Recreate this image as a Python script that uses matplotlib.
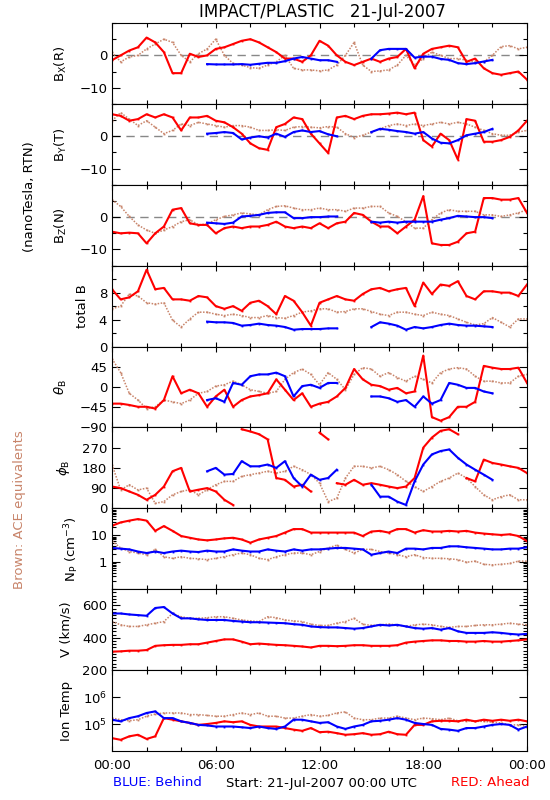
import numpy as np
import matplotlib
matplotlib.use('Agg')
import matplotlib.pyplot as plt
from matplotlib.ticker import MultipleLocator, FixedLocator, NullLocator, LogLocator

RED = '#ff0000'
BLUE = '#0000ff'
BROWN = '#c8846a'

# half-hour samples over the day (hours since 00:00 UTC)
hours = np.arange(0, 24.01, 0.5)

# ---- magnetic field (nT, RTN) ----
bx_red = [-1.5, 0, 1.5, 2.5, 5.5, 4, 1, -5.5, -5.5, 0.5, -0.5, 0, 2, 2.5, 3.5, 4.5, 5, 4, 2.5, 1,
          -1, -1, -2, 0, 4.5, 3, 0, -2, -3, -2, -1, -2, -1, -0.5, 2, -4, 0.5, 2, 2.5, 3,
          2.5, -2, -1, -4, -5.5, -6, -5.5, -5, -7.5]
bx_blue = [None] * 11 + [-2.7, -2.8, -2.8, -2.8, -2.7, -2.9, -2.6, -2.3, -2.3, -1.8, -1.0, -0.5, -1.0, -1.5, -1.5, -2.0] \
    + [None] * 3 + [-1.0, 1.6, 2.0, 2.0, 2.0, -0.7, -0.4, -0.4, -1.1, -1.4, -2.4, -2.7, -2.4, -1.9, -1.4] + [None] * 4
bx_brown = [1, -2, -0.5, 0, 2, 3.5, 5, 4, 0, -2, 0.5, 2, 5, 0, -2.5, -3, -3.8, -4, -3, -2,
            0, -4, -4.5, -4.5, -4.8, -4.5, -3, 0, 4, -3, -5, -4.8, -4.5, -3, 0, -3, -1, 1, 0, -1,
            -1, -1.5, -2, -2, 0, 2.7, 3, 2, 2.5]

by_red = [6.8, 6.3, 4.8, 5.3, 6.8, 5.8, 6.8, 5.8, 1.8, 5.8, 5.8, 6.3, 4.8, 4.3, 2.8, 0.8, -2.2, -3.7, -4.2, 2.8,
          3.8, 5.8, 5.3, 0.8, -2.2, -5.2, 5.8, 6.3, 5.3, 6.3, 6.8, 6.8, 7.0, 7.3, 6.8, 7.3, -1.2, -3.2, 0.8, -1.2,
          -7.2, 5.3, 4.8, -1.7, -1.7, -1.2, -0.2, 1.8, 4.8]
by_blue = [None] * 11 + [0.8, 1.0, 1.3, 1.0, -1.0, -0.4, 0, -0.4, 0.8, -0.2, 1.3, 1.8, 1.3, 1.6, 0.6, 0] \
    + [None] * 3 + [1.3, 2.3, 2.0, 1.6, 1.3, 0.8, 1.3, -0.7, -2.0, -2.2, -1.2, 0.3, 0.8, 1.3, 2.3] + [None] * 4
by_brown = [4.8, 7.3, 5.3, 3.3, 4.8, 2.8, 0.8, 1.8, 3.8, 3.3, 4.3, 3.8, 3.3, 2.8, 3.3, 3.3, 2.8, 1.8, 1.8, 2.0,
            1.8, 2.8, 3.0, 2.8, 2.6, 3.0, 2.8, 0.8, -0.4, 0.3, 1.3, 2.3, 3.3, 3.8, 3.3, 3.8, 3.3, 3.8, 4.3, 3.8,
            4.3, 3.8, 2.8, 1.8, 0.8, 0.3, 0.3, 1.3, 1.8]

bz_red = [-4.5, -5, -4.8, -5, -8.1, -5, -2.9, 2.3, 2.8, -1.9, -2.4, -2.4, -5, -3.4, -2.9, -3.4, -2.9, -2.9, -2.4, -1.4,
          -2.9, -3.4, -2.9, -3.4, -1.9, -3.4, -1.9, -1.4, 1.3, 0.7, -1.4, -2.9, -2.9, -5, -2.9, -0.8, 6.5, -8.1, -8.6, -8.6,
          -7.6, -5, -4.5, 5.9, 5.9, 5.4, 5.4, 5.9, 1.3]
bz_blue = [None] * 11 + [-1.7, -1.9, -2.1, -1.7, 0.2, 0.4, 0.7, 1.3, 1.5, 1.5, -0.3, -0.3, 0, 0, 0.2, 0.2] \
    + [None] * 3 + [-1.4, -1.7, -1.4, -1.7, -1.4, -1.4, -1.4, -1.4, -0.8, -0.3, 0.4, 0.2, 0, 0, -0.3] + [None] * 4
bz_brown = [5.4, 3.3, 0.2, -2.4, -4, -5, -4, -2.9, -1.4, -0.8, -2.4, -2.1, -0.8, 0.2, 0.7, 1.3, 1.0, 0.7, 2.3, 3.3,
            3.5, 2.8, 2.3, 2.3, 2.8, 2.3, 2.3, 1.8, 2.8, 2.8, 3.3, 3.3, 1.3, 0.2, -1.4, -3.4, -3.4, -0.8, 1.3, 2.3,
            1.8, 1.8, 1.8, 0.7, 0.7, 0.2, 0.7, 1.3, 2.3]

bt_red = [8.5, 7, 7.3, 8.2, 11.4, 8.5, 8.7, 7, 7, 6.8, 7.5, 7.3, 6, 5.6, 6, 5.3, 6.5, 6.8, 6, 4.8,
          7.5, 6.8, 5.1, 3.1, 6.5, 7, 7.5, 7, 6.8, 7.8, 8.5, 8.7, 8.2, 8.5, 8.7, 6, 9.5, 7.8, 9.2, 9,
          9.7, 7.5, 7, 8.2, 8.2, 8, 8, 7.5, 9.2]
bt_blue = [None] * 11 + [3.7, 3.6, 3.6, 3.5, 3.1, 3.2, 3.4, 3.2, 3.1, 2.9, 2.5, 2.6, 2.6, 2.6, 2.7, 2.7] \
    + [None] * 3 + [2.9, 3.6, 3.4, 3.1, 2.5, 2.9, 2.7, 2.9, 3.2, 3.4, 3.2, 3.1, 3.1, 3.0, 2.9] + [None] * 4
bt_brown = [5.6, 6, 7.8, 7.5, 6.5, 6.3, 6.5, 3.9, 2.9, 4.1, 5.1, 5.1, 4.8, 4.6, 4.8, 4.6, 4.3, 4.3, 4.6, 4.3,
            4.2, 4.6, 5.1, 5.3, 5.6, 5.6, 5.1, 5.2, 5.6, 5.6, 5.2, 4.8, 4.6, 5.1, 5.1, 4.8, 4.6, 5.1, 4.8, 4.6,
            4.1, 3.6, 3.2, 3.4, 4.3, 3.6, 2.9, 4.1, 4.1]

# ---- field angles (deg) ----
th_red = [-37, -37, -40, -44, -44, -48, -29, 24, -14, -6, -14, -44, -21, -6, -44, -29, -21, -18, -14, 17,
          -6, -29, -14, -44, -37, -33, -21, -2, 40, 17, 5, 2, -6, -2, -14, -10, 70, -67, -75, -67,
          -44, -44, -33, 47, 43, 40, 40, 43, 9]
th_blue = [None] * 11 + [-29, -25, -33, 9, 5, 24, 28, 28, 32, 24, -21, 2, 5, -2, 9, 9] \
    + [None] * 3 + [-21, -21, -25, -33, -29, -44, -21, -37, -29, 9, 5, -2, -2, -10, -14] + [None] * 4
th_brown = [63, 32, -14, -29, -48, -44, -29, -33, -37, -29, -14, -10, 2, 5, 13, 5, -6, -10, -14, -10,
            17, 32, 40, 28, 5, 32, 17, -6, 28, 43, 40, 24, 32, 21, 13, 24, 17, 9, 32, 40,
            43, 40, 24, 13, 13, 9, 9, 24, 28]

ph_red = [97, 90, 75, 60, 38, 60, 97, 165, 180, 75, 83, 90, 75, 38, 15, 352, 342, 330, 307, 135,
          127, 97, 105, 75, 337, 307, 112, 105, 127, 105, 112, 105, 97, 90, 97, 135, 270, 315, 345, 352,
          330, 135, 120, 217, 202, 195, 187, 180, 157]
ph_blue = [None] * 11 + [165, 180, 150, 153, 210, 187, 187, 195, 180, 210, 135, 97, 150, 127, 135, 172] \
    + [None] * 3 + [105, 52, 52, 30, 15, 120, 195, 240, 255, 262, 225, 195, 172, 150, 127] + [None] * 4
ph_brown = [195, 82, 105, 82, 90, 22, 30, 60, 75, 83, 60, 83, 105, 120, 120, 142, 150, 157, 165, 157,
            165, 187, 172, 150, 112, 30, 45, 135, 187, 187, 180, 187, 172, 150, 120, 97, 75, 97, 120, 135,
            157, 135, 97, 60, 38, 52, 60, 38, 38]

# ---- plasma ----
np_red = [22.6, 30, 35, 40, 35, 14.6, 22, 14.6, 9.4, 8.1, 7.0, 6.5, 7.0, 7.7, 8.1, 7.0, 5.3, 7.0, 8.1, 9.4,
          12.6, 17, 17, 12.6, 12.6, 12.6, 12.6, 12.6, 12.6, 9.4, 13.8, 14.6, 12.6, 17, 17, 12.6, 15.5, 13.8, 13.8, 14.6,
          13.8, 14.6, 12.6, 11.6, 10.9, 10.3, 10.9, 9.4, 6.1]
np_blue = [3.4, 3.2, 3.0, 2.5, 2.2, 2.5, 2.2, 2.5, 2.7, 2.5, 2.4, 2.7, 2.5, 2.5, 3.0, 2.7, 2.5, 2.5, 3.0, 2.7,
           2.5, 3.0, 2.7, 3.0, 3.0, 3.2, 3.4, 3.4, 3.2, 3.0, 1.9, 2.2, 2.5, 2.2, 3.2, 3.2, 3.0, 3.4, 3.4, 3.9,
           3.9, 3.6, 3.4, 3.2, 3.0, 3.0, 3.2, 3.2, 3.6]
np_brown = [6.1, 3.4, 2.5, 2.2, 1.9, 3.0, 1.6, 1.4, 1.6, 1.4, 1.35, 1.25, 1.4, 1.6, 1.9, 2.2, 1.9, 1.4, 1.25, 1.6,
            1.9, 2.2, 2.2, 1.9, 2.5, 3.4, 4.3, 3.0, 2.2, 3.0, 3.0, 2.5, 2.2, 1.9, 1.6, 1.9, 1.5, 1.4, 1.4, 1.35,
            1.25, 1.0, 1.1, 0.84, 0.8, 0.84, 0.9, 1.1, 1.1]

v_red = [314, 316, 320, 320, 324, 350, 354, 356, 356, 360, 360, 370, 380, 390, 390, 376, 360, 364, 360, 356,
         354, 350, 346, 340, 350, 350, 348, 350, 354, 354, 350, 350, 350, 354, 370, 376, 380, 384, 384, 380,
         380, 376, 376, 380, 376, 376, 380, 384, 390]
v_blue = [550, 550, 544, 540, 536, 584, 590, 550, 520, 520, 514, 510, 510, 510, 504, 500, 496, 496, 494, 492,
          490, 484, 480, 470, 466, 464, 464, 460, 456, 460, 470, 480, 476, 480, 470, 460, 456, 460, 450, 460,
          440, 430, 430, 430, 434, 430, 424, 420, 424]
v_brown = [500, 480, 470, 470, 480, 490, 500, 550, 530, 520, 520, 524, 530, 530, 520, 510, 504, 500, 530, 524,
           510, 504, 500, 484, 476, 476, 490, 500, 520, 484, 476, 480, 484, 480, 470, 480, 484, 480, 470, 464,
           470, 470, 476, 480, 480, 484, 490, 484, 480]

# ion temperature in units of 1e5 K
t_red = [0.30, 0.26, 0.35, 0.40, 0.28, 0.35, 1.66, 1.45, 1.26, 1.10, 0.93, 1.00, 1.10, 1.26, 1.17, 1.26, 0.93, 0.81, 0.81, 0.81,
         0.71, 0.62, 0.56, 0.71, 0.50, 0.52, 0.46, 0.40, 0.42, 0.46, 0.40, 0.42, 0.52, 0.42, 0.40, 0.93, 0.93, 1.26, 1.32, 1.32,
         1.26, 1.45, 1.26, 1.45, 1.32, 1.45, 1.32, 1.45, 1.26]
t_blue = [1.45, 1.26, 1.66, 1.95, 2.57, 2.95, 1.66, 1.66, 1.26, 1.10, 0.93, 0.89, 0.81, 0.81, 0.81, 0.76, 0.71, 0.81, 0.71, 0.66,
          0.81, 1.45, 1.45, 1.26, 1.10, 1.17, 0.81, 0.66, 0.81, 0.93, 1.26, 1.32, 1.45, 1.66, 1.45, 1.10, 1.00, 0.93, 0.66, 0.62,
          0.56, 0.71, 0.71, 0.81, 0.93, 1.00, 0.93, 0.62, 0.81]
t_brown = [1.66, 1.45, 1.32, 1.45, 1.95, 2.34, 2.57, 2.57, 2.57, 2.24, 2.24, 2.09, 1.95, 1.95, 2.24, 2.57, 2.24, 2.57, 1.95, 1.95,
           1.66, 1.66, 1.95, 2.24, 1.95, 2.09, 2.57, 2.82, 1.66, 1.45, 1.45, 1.66, 1.66, 1.95, 1.66, 1.45, 1.66, 1.58, 1.45, 1.66,
           1.32, 1.32, 1.26, 1.26, 1.17, 1.10, 0.93, 0.93, 0.81]


def arr(v, scale=1.0, wrap=False):
    a = np.array(v, dtype=float) * scale
    if wrap:
        # don't join points across the 0/360 wrap
        out_t, out_v = [hours[0]], [a[0]]
        for i in range(1, len(a)):
            if abs(a[i] - a[i - 1]) > 180:
                out_t.append(np.nan)
                out_v.append(np.nan)
            out_t.append(hours[i])
            out_v.append(a[i])
        return np.array(out_t), np.array(out_v)
    return hours, a


panels = [
    ('B$_\\mathrm{X}$(R)', (bx_brown, bx_red, bx_blue), (-15, 10), [-10, 0], ['\u221210', '0'], 5, 'lin'),
    ('B$_\\mathrm{Y}$(T)', (by_brown, by_red, by_blue), (-15, 10), [-10, 0], ['\u221210', '0'], 5, 'lin'),
    ('B$_\\mathrm{Z}$(N)', (bz_brown, bz_red, bz_blue), (-15, 10), [-10, 0], ['\u221210', '0'], 5, 'lin'),
    ('total B', (bt_brown, bt_red, bt_blue), (0, 12), [0, 4, 8], ['0', '4', '8'], 2, 'lin'),
    ('$\\theta_\\mathrm{B}$', (th_brown, th_red, th_blue), (-90, 90), [-90, -45, 0, 45],
     ['\u221290', '\u221245', '0', '45'], None, 'lin'),
    ('$\\phi_\\mathrm{B}$', (ph_brown, ph_red, ph_blue), (0, 360), [0, 90, 180, 270],
     ['0', '90', '180', '270'], None, 'wrap'),
    ('N$_\\mathrm{P}$ (cm$^{-3}$)', (np_brown, np_red, np_blue), (0.1, 100), [1, 10], ['1', '10'], None, 'log'),
    ('V (km/s)', (v_brown, v_red, v_blue), (200, 700), [200, 400, 600], ['200', '400', '600'], 20, 'lin'),
    ('Ion Temp', (t_brown, t_red, t_blue), (1e4, 1e7), [1e5, 1e6], ['10$^5$', '10$^6$'], None, 'temp'),
]

fig, axes = plt.subplots(len(panels), 1, figsize=(5.5, 8), dpi=100, sharex=True)
fig.subplots_adjust(left=112 / 550, right=527 / 550, top=1 - 23 / 800, bottom=1 - 751 / 800, hspace=0)

for ax, (label, series, ylim, ticks, labels, minor, kind) in zip(axes, panels):
    scale = 1e5 if kind == 'temp' else 1.0
    wrap = kind == 'wrap'
    for vals, col, lw, ls in zip(series, (BROWN, RED, BLUE), (1.1, 1.5, 1.5), ((0, (1, 1)), '-', '-')):
        t, y = arr(vals, scale, wrap)
        ax.plot(t, y, color=col, lw=lw, ls=ls, marker='s', ms=1.3, mew=0)
    if kind in ('log', 'temp'):
        ax.set_yscale('log')
    ax.set_ylim(*ylim)
    ax.yaxis.set_major_locator(FixedLocator(ticks))
    ax.set_yticklabels(labels)
    if kind == 'log':
        ax.yaxis.set_minor_locator(LogLocator(base=10, subs=np.arange(2, 10)))
    elif kind == 'temp':
        ax.yaxis.set_minor_locator(NullLocator())
    elif minor:
        ax.yaxis.set_minor_locator(MultipleLocator(minor))
    else:
        ax.yaxis.set_minor_locator(NullLocator())
    if ylim == (-15, 10):
        ax.axhline(0, color='#888888', lw=1.0, dashes=(6, 4), zorder=0)
    ax.set_ylabel(label, fontsize=9.5, labelpad=7)
    ax.tick_params(axis='both', which='both', direction='in', top=True, right=True, labelsize=9.5)
    ax.tick_params(axis='y', which='major', length=5.5, width=0.8)
    ax.tick_params(axis='y', which='minor', length=3, width=0.8)
    ax.tick_params(axis='x', which='major', length=3.5, width=0.8)
    ax.tick_params(axis='x', which='minor', length=3, width=0.8)
    for s in ax.spines.values():
        s.set_linewidth(0.8)

axes[-1].set_xlim(0, 24)
axes[-1].xaxis.set_major_locator(FixedLocator([0, 6, 12, 18, 24]))
axes[-1].set_xticklabels(['00:00', '06:00', '12:00', '18:00', '00:00'])
axes[-1].xaxis.set_minor_locator(MultipleLocator(2))
axes[-1].tick_params(axis='x', pad=6)

fig.text(322 / 550, 1 - 12 / 800, 'IMPACT/PLASTIC   21-Jul-2007', ha='center', va='center', fontsize=12)
fig.text(30 / 550, 1 - 197 / 800, '(nanoTesla, RTN)', rotation=90, ha='center', va='center', fontsize=9.5)
fig.text(20 / 550, 1 - 510 / 800, 'Brown: ACE equivalents', rotation=90, ha='center', va='center',
         fontsize=9.5, color=BROWN)
fig.text(113 / 550, 1 - 783 / 800, 'BLUE: Behind', ha='left', va='center', fontsize=9.5, color=BLUE)
fig.text(321 / 550, 1 - 783 / 800, 'Start: 21-Jul-2007 00:00 UTC', ha='center', va='center', fontsize=9.5)
fig.text(530 / 550, 1 - 783 / 800, 'RED: Ahead', ha='right', va='center', fontsize=9.5, color=RED)

fig.savefig('out.png', dpi=100)
